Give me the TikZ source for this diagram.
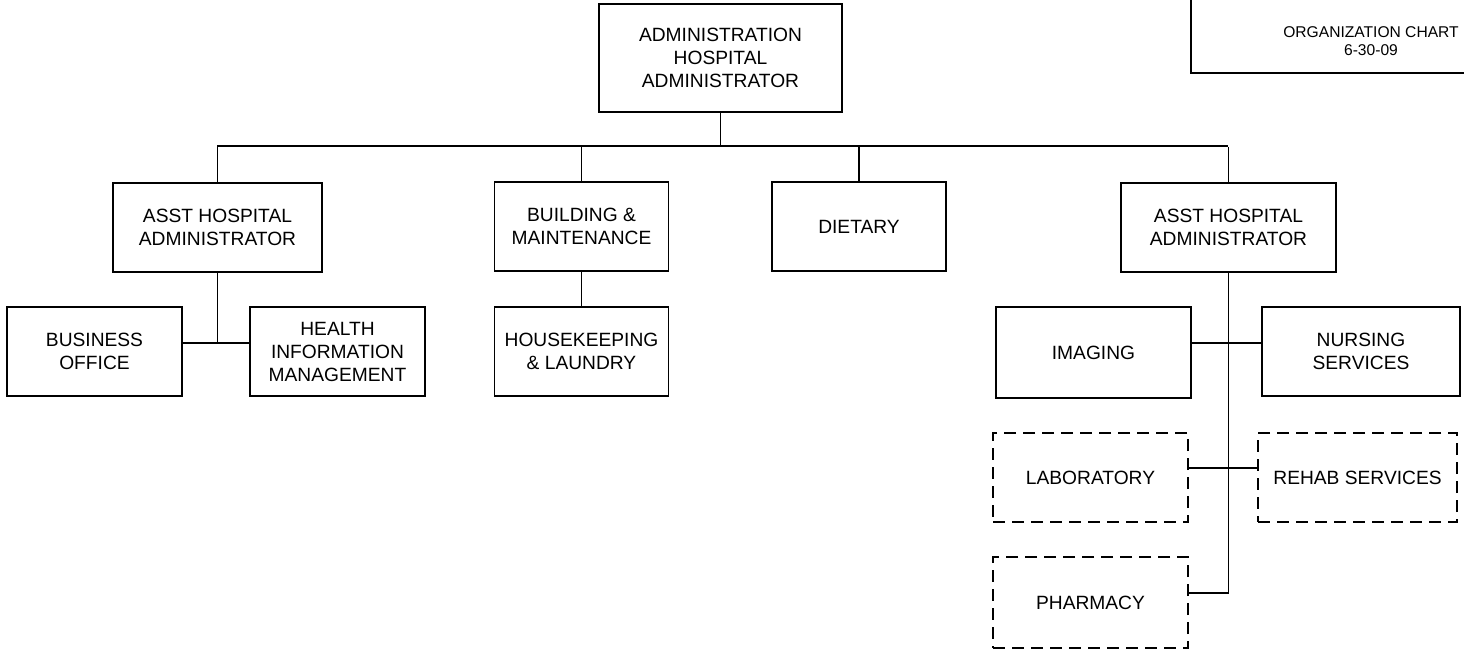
\documentclass[tikz,border=0pt]{standalone}
\usepackage{fontspec}
\setmainfont{Liberation Sans}
\newcommand{\drawbox}{\node[draw,rectangle,align=center,inner sep=0,minimum width=87pt,minimum height=44.5pt]}
\newcommand{\drawdashbox}{\node[draw,dashed,dash pattern=on 6pt off 3.5pt,rectangle,align=center,inner sep=0,minimum width=97.5pt,minimum height=44.5pt]}
\newcommand{\drawdummy}{\node[minimum size=0,inner sep=0]}

\begin{document}
\begin{tikzpicture}[x=0.5pt, y=-0.5pt, line width=0.9pt, font=\fontsize{9.6}{11.5}\selectfont]
\useasboundingbox (0,0) rectangle (1464,655);
%title block, cut by the page edge
\drawbox (chartbox) [minimum width=200pt, minimum height=60pt, anchor=south west] at (1190,74) {};
\node[align=center, font=\fontsize{7.8}{9}\selectfont] (charttitle) at (1371,41) {ORGANIZATION CHART\\6-30-09};

%top level
\drawbox (admin) [minimum width=121.5pt, minimum height=54pt] at (720.5,58) {ADMINISTRATION\\HOSPITAL\\ADMINISTRATOR};

%second level
\drawbox (asstL) [minimum width=104.5pt] at (217.5,227.5) {ASST HOSPITAL\\ADMINISTRATOR};
\drawbox (building) at (581.5,226.5) {BUILDING \&\\MAINTENANCE};
\drawbox (dietary) at (859,226.5) {DIETARY};
\drawbox (asstR) [minimum width=107.5pt] at (1228.5,227.5) {ASST HOSPITAL\\ADMINISTRATOR};
\drawdummy (busL) at (217.5,146) {};
\drawdummy (busR) at (1228.5,146) {};

%third level
\drawbox (business) [minimum width=87.5pt] at (94.5,351.5) {BUSINESS\\OFFICE};
\drawbox (health) [minimum width=87.5pt] at (337.5,351.5) {HEALTH\\INFORMATION\\MANAGEMENT};
\drawbox (housekeeping) at (581.5,351.5) {HOUSEKEEPING\\\& LAUNDRY};
\drawbox (imaging) [minimum width=97.5pt, minimum height=45.5pt] at (1093.5,352.5) {IMAGING};
\drawbox (nursing) [minimum width=99pt] at (1361,351.5) {NURSING\\SERVICES};
\drawdummy (hubL) at (217.5,343) {};
\drawdummy (hubR1) at (1228.5,343) {};

%dashed units
\drawdashbox (lab) at (1090.5,477.5) {LABORATORY};
\drawdashbox (rehab) [minimum width=99.5pt] at (1357.5,477.5) {REHAB SERVICES};
\drawdashbox (pharmacy) [minimum height=45.5pt] at (1090.5,602.5) {PHARMACY};
\drawdummy (hubR2) at (1228.5,468) {};
\drawdummy (hubR3) at (1228.5,593) {};

\draw[-] (admin.south) to (admin.south |- busL);
\draw[-] (asstL.north) |- (busR) to (asstR.north);
\draw[-] (building.north) to (building.north |- busL);
\draw[-] (dietary.north) to (dietary.north |- busL);

\draw[-] (asstL.south) to (hubL);
\draw[-] (business.east |- hubL) to (health.west |- hubL);
\draw[-] (building.south) to (housekeeping.north);

\draw[-] (asstR.south) |- (pharmacy.east |- hubR3);
\draw[-] (imaging.east |- hubR1) to (nursing.west |- hubR1);
\draw[-] (lab.east |- hubR2) to (rehab.west |- hubR2);
\end{tikzpicture}
\end{document}
